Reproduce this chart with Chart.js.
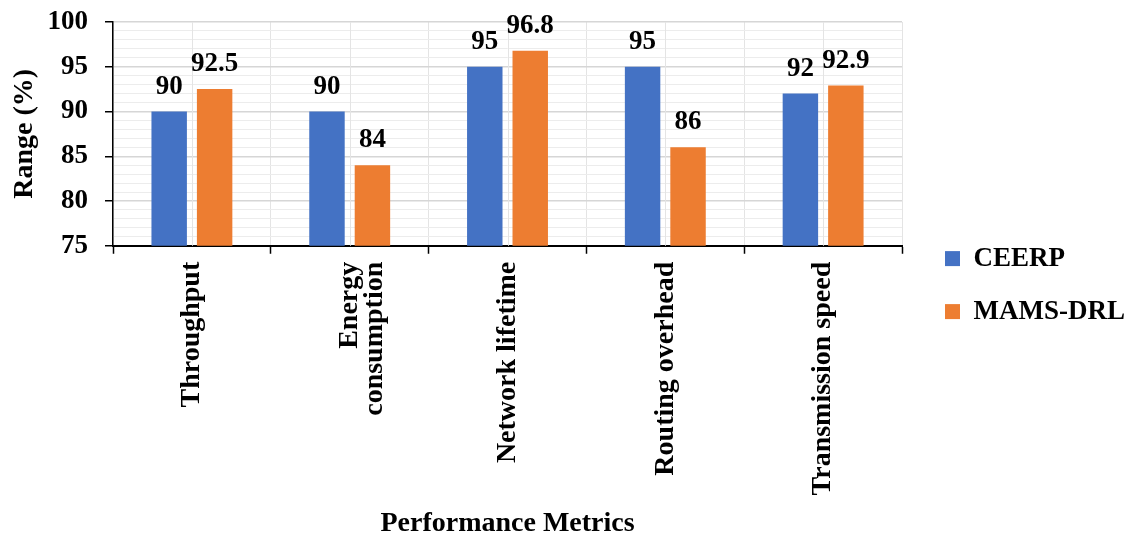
<!DOCTYPE html>
<html>
<head>
<meta charset="utf-8">
<script src="https://cdn.jsdelivr.net/npm/chart.js@4"></script>
<style>
  html, body { margin: 0; padding: 0; background: #fff; }
  #wrap { width: 1128px; height: 539px; }
</style>
</head>
<body>
<div id="wrap"><canvas id="chart" width="1128" height="539"></canvas></div>
<script>
// Performance comparison of CEERP and MAMS-DRL
const categories = [
  'Throughput',
  ['Energy', 'consumption'],
  'Network lifetime',
  'Routing overhead',
  'Transmission speed'
];
const ceerp = [90, 90, 95, 95, 92];
const mamsDrl = [92.5, 84, 96.8, 86, 92.9];
const yMin = 75;
const yMax = 100;

const serif = '"Liberation Serif", "Times New Roman", serif';
const gridGrey = '#e4e4e4';

// Value labels above each bar
const barValueLabels = {
  id: 'barValueLabels',
  afterDatasetsDraw(chart) {
    const ctx = chart.ctx;
    ctx.save();
    ctx.font = 'bold 27px ' + serif;
    ctx.fillStyle = '#000';
    ctx.textAlign = 'center';
    ctx.textBaseline = 'alphabetic';
    chart.data.datasets.forEach((ds, di) => {
      const meta = chart.getDatasetMeta(di);
      meta.data.forEach((bar, i) => {
        ctx.fillText(String(ds.data[i]), bar.x, bar.y - 18);
      });
    });
    ctx.restore();
  }
};

// Extra vertical gridline through the middle of each category
const categoryCentreLines = {
  id: 'categoryCentreLines',
  beforeDatasetsDraw(chart) {
    const { ctx, chartArea, scales } = chart;
    ctx.save();
    ctx.strokeStyle = gridGrey;
    ctx.lineWidth = 1;
    categories.forEach((_, i) => {
      const x = Math.round(scales.x.getPixelForValue(i)) + 0.5;
      ctx.beginPath();
      ctx.moveTo(x, chartArea.top);
      ctx.lineTo(x, chartArea.bottom);
      ctx.stroke();
    });
    ctx.restore();
  }
};

new Chart(document.getElementById('chart'), {
  type: 'bar',
  data: {
    labels: categories,
    datasets: [
      { label: 'CEERP', data: ceerp, backgroundColor: '#4472C4',
        categoryPercentage: 0.576, barPercentage: 0.78 },
      { label: 'MAMS-DRL', data: mamsDrl, backgroundColor: '#ED7D31',
        categoryPercentage: 0.576, barPercentage: 0.78 }
    ]
  },
  options: {
    responsive: false,
    animation: false,
    layout: { padding: { top: 0, right: -7, bottom: 0, left: 8 } },
    plugins: {
      legend: {
        position: 'right',
        maxWidth: 400,
        title: { display: true, text: ' ', font: { size: 6 }, padding: { top: 0, bottom: 24 } },
        labels: {
          boxWidth: 15,
          boxHeight: 15,
          padding: 26,
          color: '#000',
          font: { family: serif, size: 27, weight: 'bold' }
        }
      },
      title: {
        display: true,
        position: 'bottom',
        fullSize: false,
        text: 'Performance Metrics',
        color: '#000',
        font: { family: serif, size: 28, weight: 'bold' },
        padding: { top: 4, bottom: -2 }
      },
      tooltip: { enabled: false }
    },
    scales: {
      x: {
        type: 'category',
        offset: true,
        grid: {
          offset: true,
          drawOnChartArea: true,
          color: gridGrey,
          drawTicks: true,
          tickLength: 8,
          tickColor: '#000',
          tickWidth: 1.5
        },
        border: { color: '#000', width: 2 },
        ticks: {
          color: '#000',
          font: { family: serif, size: 28, weight: 'bold', lineHeight: 0.88 },
          minRotation: 90,
          maxRotation: 90,
          autoSkip: false,
          padding: 8
        }
      },
      y: {
        min: yMin,
        max: yMax,
        afterFit: (scale) => { scale.width = 105; },
        ticks: {
          stepSize: 1,
          autoSkip: false,
          color: '#000',
          padding: 17,
          font: { family: serif, size: 27, weight: 'bold', lineHeight: 0.37 },
          callback: (v) => (v % 5 === 0 ? v : '')
        },
        grid: {
          color: (c) => (c.tick && c.tick.value % 5 === 0 ? '#d6d6d6' : '#ececec'),
          lineWidth: (c) => (c.tick && c.tick.value % 5 === 0 ? 1.5 : 1),
          tickLength: 8,
          tickColor: (c) => (c.tick && c.tick.value % 5 === 0 ? '#000' : 'rgba(0,0,0,0)'),
          tickWidth: 1.5
        },
        border: { color: '#000', width: 1.5 },
        title: {
          display: true,
          text: 'Range (%)',
          color: '#000',
          font: { family: serif, size: 28, weight: 'bold' },
          padding: { top: 0, bottom: 8 }
        }
      },
      // empty spacer between the plot and the legend
      gap: {
        type: 'linear',
        position: 'right',
        display: true,
        afterFit: (scale) => { scale.width = 17; },
        ticks: { display: false },
        grid: { display: false },
        border: { display: false }
      }
    }
  },
  plugins: [categoryCentreLines, barValueLabels]
});
</script>
</body>
</html>
